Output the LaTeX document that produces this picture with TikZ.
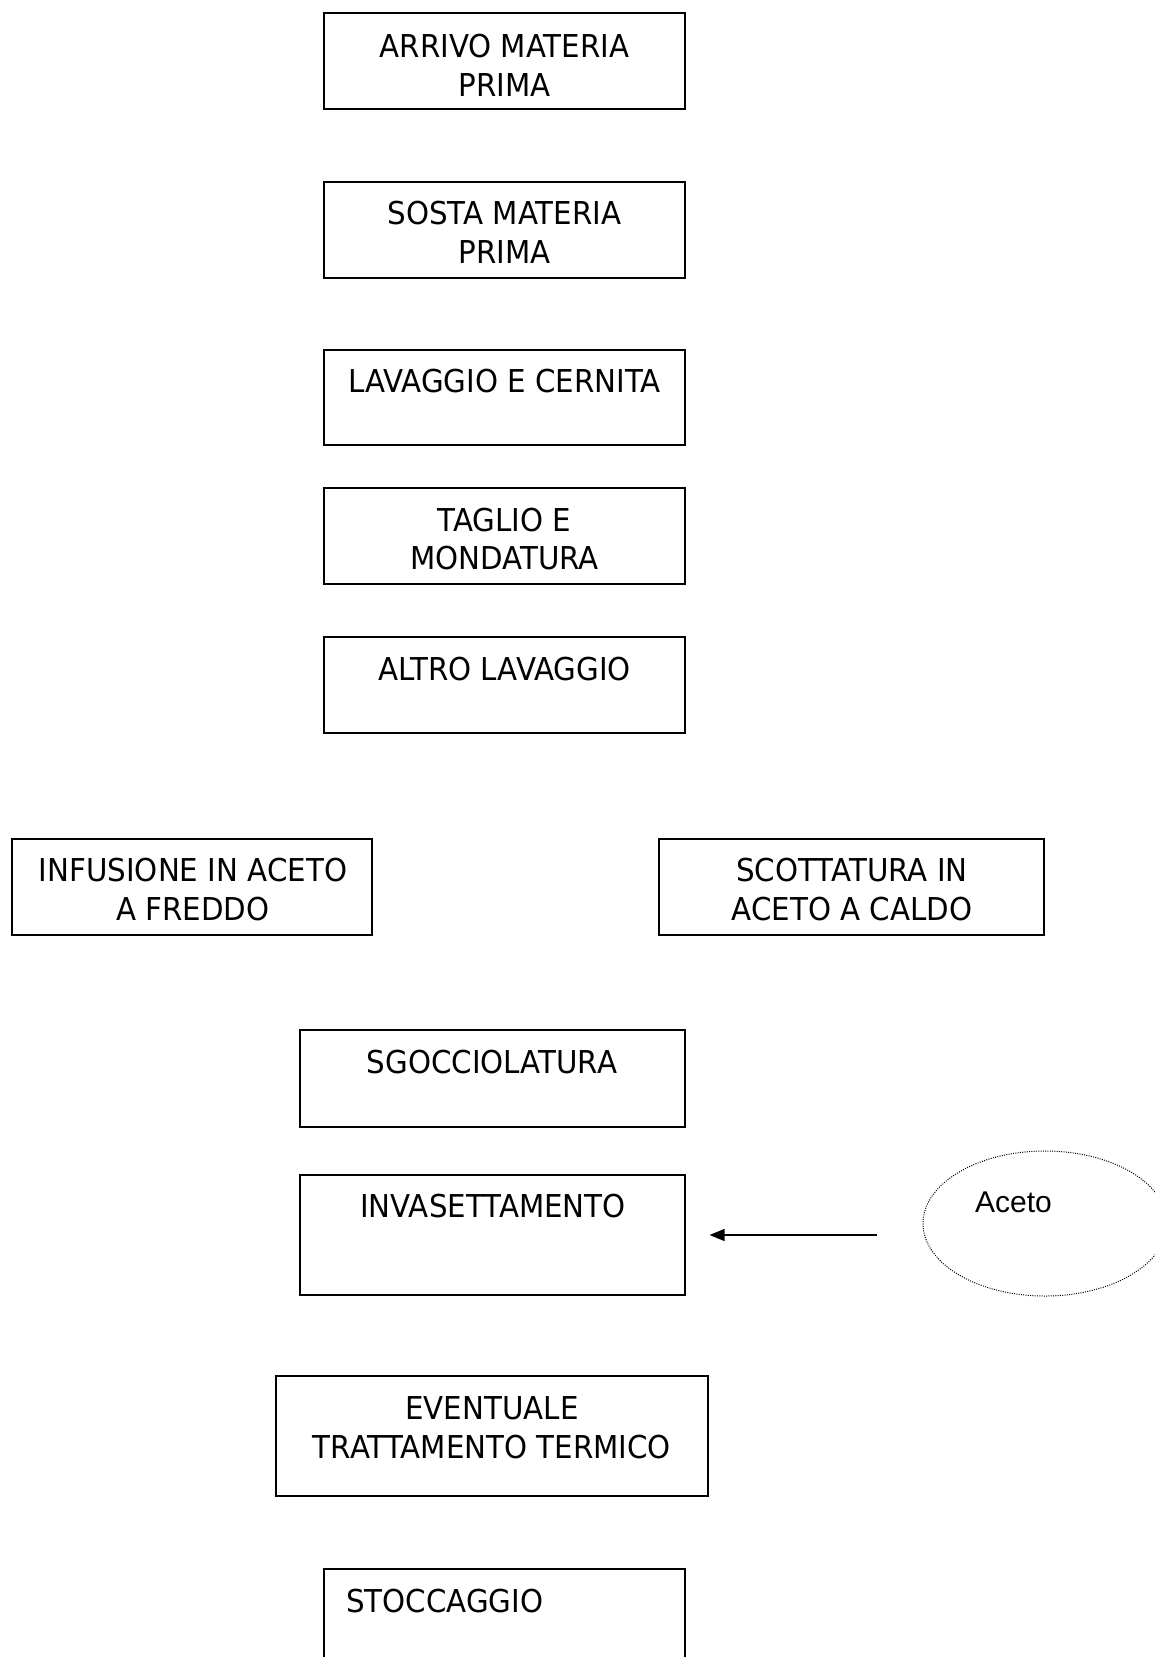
\documentclass[tikz,border=0pt]{standalone}
\usepackage{fontspec}
\setmainfont{DejaVu Sans}[FakeStretch=0.93]
\newfontfamily\acetofont{Liberation Sans}
\usetikzlibrary{shapes.geometric,arrows.meta}
\begin{document}
\begin{tikzpicture}[x=1pt,y=-1pt,
  stepbox/.style={draw=black,line width=1.2pt,rectangle,inner sep=0pt},
  steptext/.style={inner sep=0pt,align=center,anchor=base,
    font=\fontsize{31.5}{38.5}\selectfont},
  flowarrow/.style={line width=1.3pt,-{Triangle[length=15pt,width=12pt]}},
  inputell/.style={draw=black,ellipse,line width=1pt,dash pattern=on 1pt off 1.3pt,inner sep=0pt}]
\useasboundingbox (0,0) rectangle (1154,1657);
% boxes
\node[stepbox,minimum width=361pt,minimum height=96pt] (arrivo) at (504.5,61) {};
\node[stepbox,minimum width=361pt,minimum height=96pt] (sosta) at (504.5,230) {};
\node[stepbox,minimum width=361pt,minimum height=95pt] (lavaggio) at (504.5,397.5) {};
\node[stepbox,minimum width=361pt,minimum height=96pt] (taglio) at (504.5,536) {};
\node[stepbox,minimum width=361pt,minimum height=96pt] (altro) at (504.5,685) {};
\node[stepbox,minimum width=360pt,minimum height=96pt] (infusione) at (192,887) {};
\node[stepbox,minimum width=385pt,minimum height=96pt] (scottatura) at (851.5,887) {};
\node[stepbox,minimum width=385pt,minimum height=97pt] (sgocciolatura) at (492.5,1078.5) {};
\node[stepbox,minimum width=385pt,minimum height=120pt] (invasettamento) at (492.5,1235) {};
\node[stepbox,minimum width=432pt,minimum height=120pt] (eventuale) at (492,1436) {};
\node[stepbox,minimum width=361pt,minimum height=120pt] (stoccaggio) at (504.5,1629) {};
% texts (base anchor = baseline of last line)
\node[steptext] at (504.5,96) {ARRIVO MATERIA\\PRIMA};
\node[steptext] at (504.5,263) {SOSTA MATERIA\\PRIMA};
\node[steptext] at (504.5,392) {LAVAGGIO E CERNITA};
\node[steptext] at (504.5,569.5) {TAGLIO E\\MONDATURA};
\node[steptext] at (504.5,680.5) {ALTRO LAVAGGIO};
\node[steptext] at (193,920) {INFUSIONE IN ACETO\\A FREDDO};
\node[steptext] at (852,920) {SCOTTATURA IN\\ACETO A CALDO};
\node[steptext] at (492,1073.5) {SGOCCIOLATURA};
\node[steptext] at (493,1217) {INVASETTAMENTO};
\node[steptext] at (492,1458) {EVENTUALE\\TRATTAMENTO TERMICO};
\node[steptext,anchor=base west] at (346,1612.5) {STOCCAGGIO};
% aceto input
\node[inputell,minimum width=244pt,minimum height=145pt] (aceto) at (1045,1223.5) {};
\node[inner sep=0pt,anchor=base west,font=\acetofont\fontsize{30}{36}\selectfont] at (975,1212) {Aceto};
\draw[flowarrow,shorten <=46pt,shorten >=24pt] (aceto.west |- invasettamento.east) -- (invasettamento.east);
\end{tikzpicture}
\end{document}
